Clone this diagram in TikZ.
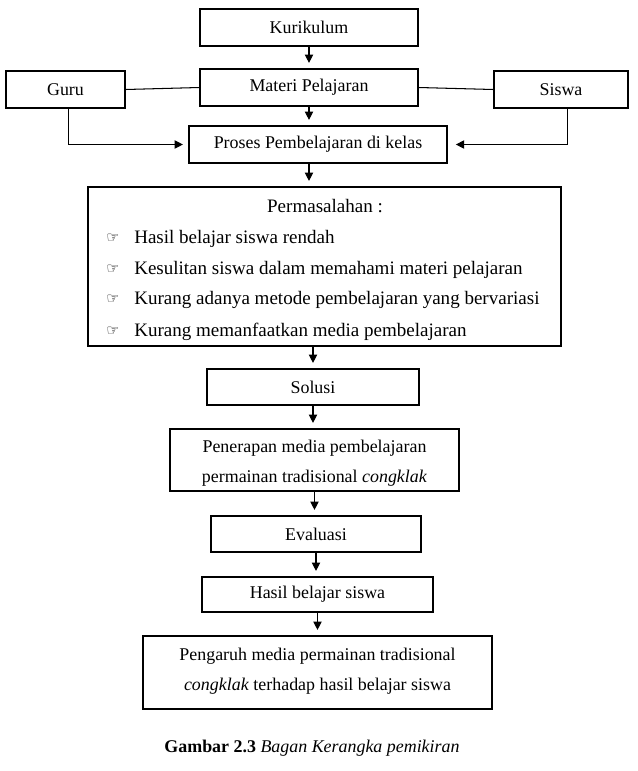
\documentclass[tikz,border=0pt]{standalone}
\usepackage{fontspec}
\setmainfont{Liberation Serif}
\newfontfamily\symfont{DejaVu Sans}
\usetikzlibrary{arrows.meta,calc}
\begin{document}
\begin{tikzpicture}[x=0.72pt,y=-0.72pt,
 box/.style={draw,line width=0.75pt,inner sep=0pt,align=center,font=\fontsize{12.9}{21.6}\selectfont},
 arr/.style={-{Triangle[length=6pt,width=6pt]},line width=0.75pt,shorten >=4pt},
 ln/.style={line width=0.75pt},
 txt/.style={inner sep=0pt,align=center,font=\fontsize{12.9}{21.6}\selectfont},
 ptxt/.style={inner sep=0pt,font=\fontsize{13.7}{16}\selectfont},
 bul/.style={inner sep=0pt,font=\symfont\fontsize{10.5}{12}\selectfont}]
\useasboundingbox (0,0) rectangle (638,771);
\node[box,minimum width=156.96pt,minimum height=26.64pt] (kur) at (309,27.5) {Kurikulum};
\node[box,minimum width=156.96pt,minimum height=26.64pt] (mat) at (309,87.5) {Materi Pelajaran};
\node[box,minimum width=85.68pt,minimum height=26.64pt] (guru) at (65.5,89.5) {Guru};
\node[box,minimum width=96.48pt,minimum height=26.64pt] (siswa) at (561,89.5) {Siswa};
\node[box,minimum width=185.76pt,minimum height=26.64pt] (proses) at (318,144.5) {Proses Pembelajaran di kelas};
\node[box,minimum width=340.56pt,minimum height=114.48pt] (perm) at (324.5,266.5) {};
\node[ptxt] (permt) at (325,206) {Permasalahan :};
\node[bul] (b1) at (113,238) {☞};
\node[bul] (b2) at (113,269) {☞};
\node[bul] (b3) at (113,299) {☞};
\node[bul] (b4) at (113,331) {☞};
\node[ptxt,anchor=west] (p1) at (134,238.5) {Hasil belajar siswa rendah};
\node[ptxt,anchor=west] (p2) at (134,269.5) {Kesulitan siswa dalam memahami materi pelajaran};
\node[ptxt,anchor=west] (p3) at (134,299.5) {Kurang adanya metode pembelajaran yang bervariasi};
\node[ptxt,anchor=west] (p4) at (134,331.5) {Kurang memanfaatkan media pembelajaran};
\node[box,minimum width=152.64pt,minimum height=25.92pt] (solusi) at (313,387) {Solusi};
\node[box,minimum width=208.08pt,minimum height=44.64pt] (pener) at (314.5,460) {};
\node[txt] (penert) at (314.5,463) {Penerapan media pembelajaran\\permainan tradisional \textit{congklak}};
\node[box,minimum width=151.2pt,minimum height=25.92pt] (eval) at (316,534) {Evaluasi};
\node[box,minimum width=166.32pt,minimum height=25.2pt] (hasil) at (317.5,594.5) {Hasil belajar siswa};
\node[box,minimum width=251.28pt,minimum height=52.56pt] (peng) at (317.5,672.5) {};
\node[txt] (pengt) at (317.5,671.5) {Pengaruh media permainan tradisional\\\textit{congklak} terhadap hasil belajar siswa};
\node[txt] (cap) at (312,748) {\textbf{Gambar 2.3} \textit{Bagan Kerangka pemikiran}};
\draw[arr] (kur.south) -- (mat.north);
\draw[arr] (mat.south) -- (mat.south |- proses.north);
\draw[arr] (mat.south |- proses.south) -- (mat.south |- perm.north);
\draw[arr] (solusi.north |- perm.south) -- (solusi.north);
\draw[arr] (solusi.south) -- (solusi.south |- pener.north);
\draw[arr] (pener.south) -- (pener.south |- eval.north);
\draw[arr] (eval.south) -- (eval.south |- hasil.north);
\draw[arr] (hasil.south) -- (hasil.south |- peng.north);
\draw[ln] (guru.east) -- (mat.west);
\draw[ln] (mat.east) -- (siswa.west);
\draw[arr] ([xshift=2.5pt]guru.south) |- (proses.west);
\draw[arr,shorten >=6pt] ([xshift=5pt]siswa.south) |- (proses.east);
\end{tikzpicture}
\end{document}
